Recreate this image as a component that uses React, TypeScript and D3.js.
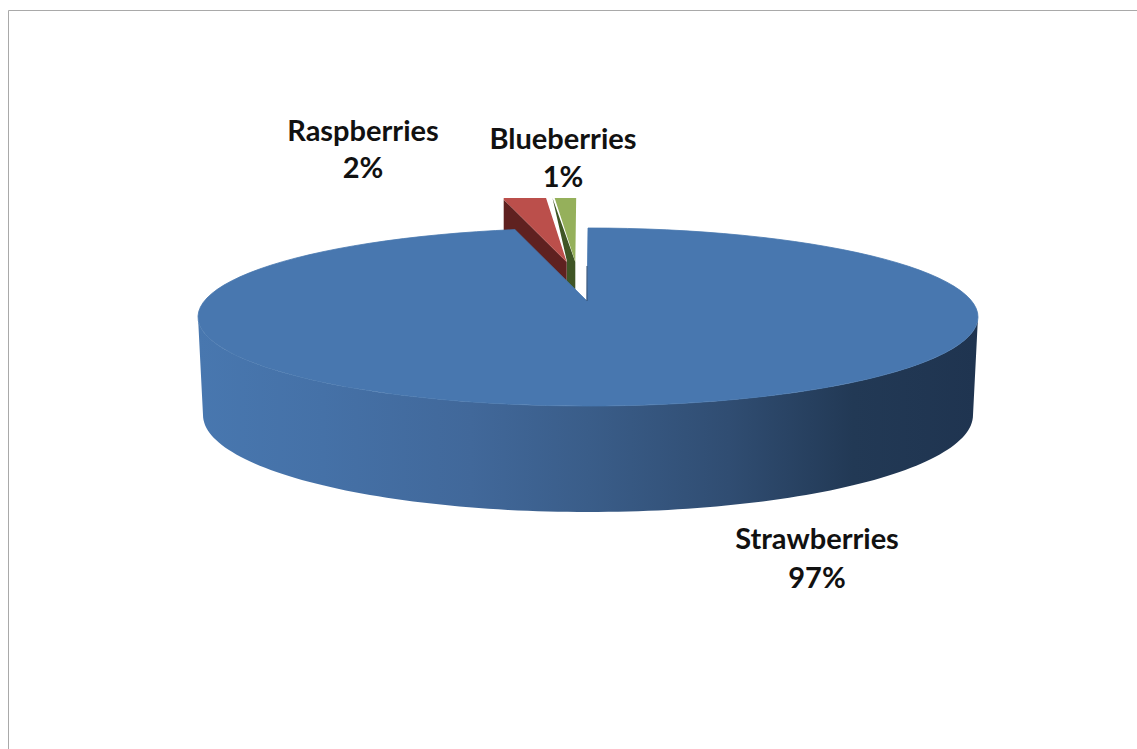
import React from "react";
import * as d3 from "d3";

const categories = ["Strawberries", "Raspberries", "Blueberries"];
const shares = [97, 2, 1];
const shareLabels = ["97%", "2%", "1%"];

const WIDTH = 1137;
const HEIGHT = 749;
const CX = 588;
const TOP_CY = 317;
const RX = 390;
const RY = 89;
const BOTTOM_CY = 415;
const BOTTOM_RX = 385;
const BOTTOM_RY = 97;
const APEX: [number, number] = [587, 301];

const faceColors = ["#4877af", "#bb4f4b", "#95b05b"];
const sideColors = ["", "#5f2120", "#3f5525"];
const labelAnchors = [
  { x: 817, y: [549, 588] },
  { x: 363, y: [141, 178] },
  { x: 563, y: [149, 187] },
];
const sideStops = [
  [0, "#4877af"],
  [0.16, "#4571a7"],
  [0.35, "#41689a"],
  [0.5, "#3a5d89"],
  [0.68, "#304d72"],
  [0.84, "#223955"],
  [1, "#1f3450"],
] as const;

// Slices run clockwise from twelve o'clock, in the order of the source table.
const arcs = d3.pie<number>().sort(null).startAngle(0).endAngle(2 * Math.PI)(shares);

const onRim = (angle: number, cx = CX, cy = TOP_CY, rx = RX, ry = RY): [number, number] => [
  cx + rx * Math.sin(angle),
  cy - ry * Math.cos(angle),
];

const rimPoints = (a0: number, a1: number, cy = TOP_CY, rx = RX, ry = RY) =>
  d3.range(0, 121).map((i) => onRim(a0 + ((a1 - a0) * i) / 120, CX, cy, rx, ry));

const polyline = d3.line<[number, number]>();

const closed = (pts: [number, number][]) => `${polyline(pts)}Z`;

// Front wall of the main slice: near half of the top rim, then the base rim back.
const frontWall = closed([
  ...rimPoints(Math.PI / 2, (3 * Math.PI) / 2),
  ...rimPoints((3 * Math.PI) / 2, Math.PI / 2, BOTTOM_CY, BOTTOM_RX, BOTTOM_RY),
]);

const mainFace = closed([APEX, ...rimPoints(arcs[0].startAngle, arcs[0].endAngle)]);

// Exploded wedges keep the main rim's angles and slide out by a fixed shift.
const raspberryShift: [number, number] = [-20.3, -39];
const blueberryShift: [number, number] = [-11.7, -39];

const wedge = (a0: number, a1: number, shift: [number, number]) => {
  const move = ([x, y]: [number, number]): [number, number] => [x + shift[0], y + shift[1]];
  return {
    apex: move(APEX),
    outer: rimPoints(a0, a1).map(move),
  };
};

const raspberry = wedge(arcs[1].startAngle - 2 * Math.PI, arcs[1].endAngle - 2 * Math.PI, raspberryShift);
const blueberry = wedge(arcs[2].startAngle - 2 * Math.PI, arcs[2].endAngle - 2 * Math.PI, blueberryShift);

const raspberrySide = closed([
  raspberry.outer[0],
  [raspberry.outer[0][0], raspberry.outer[0][1] + 60],
  [raspberry.apex[0], raspberry.apex[1] + 40],
  raspberry.apex,
]);

const blueberrySide = closed([
  [552.5, 198],
  [blueberry.apex[0] - 8.6, blueberry.apex[1] - 1.7],
  [blueberry.apex[0] - 8.6, blueberry.apex[1] + 40],
  [blueberry.apex[0], blueberry.apex[1] + 40],
  blueberry.apex,
]);

export default function App() {
  return (
    <svg
      width={WIDTH}
      height={HEIGHT}
      viewBox={`0 0 ${WIDTH} ${HEIGHT}`}
      style={{ position: "absolute", left: 0, top: 0, background: "#fff" }}
    >
      <defs>
        <linearGradient id="wall" gradientUnits="userSpaceOnUse" x1={CX - RX} x2={CX + RX} y1={0} y2={0}>
          {sideStops.map(([offset, color]) => (
            <stop key={offset} offset={offset} stopColor={color} />
          ))}
        </linearGradient>
        <clipPath id="plot">
          <rect x={503.7} y={198} width={500} height={400} />
        </clipPath>
      </defs>

      <path d={`M8.5,${HEIGHT}V10.5H${WIDTH}`} fill="none" stroke="#a9a9a9" strokeWidth={1} />

      <g clipPath="url(#plot)">
        <path d={blueberrySide} fill={sideColors[2]} />
        <path d={raspberrySide} fill={sideColors[1]} />
        <path d={closed([blueberry.apex, ...blueberry.outer])} fill={faceColors[2]} />
        <path d={closed([raspberry.apex, ...raspberry.outer])} fill={faceColors[1]} />
      </g>

      <path d={frontWall} fill="url(#wall)" />
      <path d={mainFace} fill={faceColors[0]} stroke={faceColors[0]} strokeWidth={0.8} />
      <path d={`M${APEX[0]},266V${APEX[1]}`} stroke="#2f4a6e" strokeWidth={1} fill="none" />

      {categories.map((name, i) => (
        <text
          key={name}
          textAnchor="middle"
          fontFamily="Lato, 'Open Sans', sans-serif"
          fontWeight={700}
          fontSize={29}
          fill="#111"
        >
          <tspan x={labelAnchors[i].x} y={labelAnchors[i].y[0]}>{name}</tspan>
          <tspan x={labelAnchors[i].x} y={labelAnchors[i].y[1]}>{shareLabels[i]}</tspan>
        </text>
      ))}
    </svg>
  );
}
